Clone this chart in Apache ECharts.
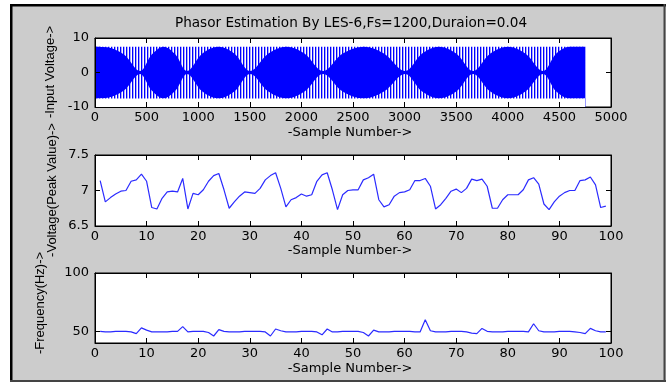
<!DOCTYPE html>
<html>
<head>
<meta charset="utf-8">
<title>Phasor Estimation By LES-6</title>
<script src="https://cdn.jsdelivr.net/npm/echarts@6/dist/echarts.min.js"></script>
<style>
  html, body { margin: 0; padding: 0; background: #fff; }
  #chart { width: 667px; height: 383px; }
</style>
</head>
<body>
<div id="chart"></div>
<script>
// input waveform is too dense to read sample by sample: read its envelope instead
// (sample number, half height of the solid core, peak amplitude)
const inputSamples = [0, 120, 280, 436, 550, 663, 780, 891, 1040, 1196, 1350, 1502, 1680, 1855, 2030, 2209,
    2400, 2606, 2800, 3004, 3170, 3333, 3500, 3663, 3830, 4002, 4170, 4341, 4470, 4600, 4750];
const inputCore = [7.5, 7.3, 5.2, 0.4, 5.2, 7.5, 5.2, 0.4, 5.5, 7.5, 5.5, 0.4, 5.5, 7.5, 5.5, 0.4,
    5.5, 7.5, 5.5, 0.4, 5.5, 7.5, 5.5, 0.4, 5.5, 7.5, 5.5, 0.4, 5.5, 7.5, 7.5];
const inputPeak = 7.5;

// estimated peak voltage, samples 1..99
const voltage = [7.14, 6.84, 6.90, 6.95, 6.99, 7.00, 7.13, 7.15, 7.23, 7.13,
    6.76, 6.74, 6.89, 6.98, 6.99, 6.98, 7.17, 6.74, 6.96, 6.94,
    7.01, 7.13, 7.21, 7.24, 7.01, 6.75, 6.84, 6.92, 6.98, 6.97,
    6.96, 7.03, 7.15, 7.21, 7.25, 7.03, 6.77, 6.87, 6.90, 6.95,
    6.92, 6.94, 7.13, 7.22, 7.25, 7.01, 6.73, 6.94, 7.00, 7.01,
    7.01, 7.15, 7.18, 7.23, 6.87, 6.77, 6.80, 6.92, 6.97, 6.98,
    7.01, 7.14, 7.14, 7.17, 7.06, 6.74, 6.80, 6.89, 6.99, 7.02,
    6.97, 7.03, 7.16, 7.14, 7.16, 7.06, 6.75, 6.75, 6.87, 6.94,
    6.94, 6.94, 7.01, 7.15, 7.18, 7.09, 6.81, 6.73, 6.84, 6.92,
    6.97, 7.00, 7.00, 7.14, 7.15, 7.19, 7.08, 6.76, 6.78];

// estimated frequency (Hz), samples 1..99
const frequency = [50, 49.5, 49.5, 50, 50, 50, 49.5, 48, 53, 51,
    49.5, 49.5, 49.5, 49.5, 50, 50, 54, 49.5, 50, 50,
    50, 49, 46, 51.5, 50, 49.5, 49.5, 49.5, 50, 50,
    50, 50, 49.5, 46, 52, 50.5, 49.5, 49.5, 49.5, 50,
    50, 50, 49.5, 47, 52, 49.5, 49.5, 50, 50, 50,
    50, 49, 46, 51, 49.5, 49.5, 49.5, 50, 50, 50,
    50, 49.5, 49.5, 60, 50.5, 49.5, 49.5, 49.5, 50, 50,
    50, 49.5, 48.5, 48, 52.5, 50, 49.5, 49.5, 49.5, 50,
    50, 50, 50, 49.5, 56.5, 50.5, 49.5, 49.5, 49.5, 50,
    50, 50, 49.5, 49, 48, 52.5, 50.5, 49.5, 49.5];

const freqTicks = [50, 100];

const FONT = '"DejaVu Sans", Verdana, sans-serif';
const FONT_V = '"Liberation Sans", Arial, sans-serif';
const chart = echarts.init(document.getElementById('chart'));

// vertical stripes seen between the solid lobes
function stripes() {
    const c = document.createElement('canvas');
    c.width = 3;
    c.height = 4;
    const ctx = c.getContext('2d');
    ctx.fillStyle = '#ffffff';
    ctx.fillRect(0, 0, 3, 4);
    ctx.fillStyle = '#0000ff';
    ctx.fillRect(0, 0, 1, 4);
    ctx.fillStyle = '#a8a8ff';
    ctx.fillRect(1, 0, 1, 4);
    return c;
}
const stripeFill = { image: stripes(), repeat: 'repeat' };

const grids = [
    { left: 95, top: 38, width: 516, height: 69 },
    { left: 95, top: 155, width: 516, height: 71 },
    { left: 95, top: 273, width: 516, height: 70 }
].map(g => Object.assign(g, { show: true, backgroundColor: '#fff', borderColor: '#000', borderWidth: 1 }));

const labelStyle = { color: '#000', fontFamily: FONT, fontSize: 13, formatter: v => String(v) };
const lineBlack = { show: true, onZero: false, lineStyle: { color: '#000', width: 1 } };
const tickIn = { show: true, inside: true, length: 5, lineStyle: { color: '#000' } };

function xPair(gi, max, interval) {
    return [
        { type: 'value', gridIndex: gi, position: 'bottom', min: 0, max: max, interval: interval, z: 10,
          axisLine: lineBlack, axisTick: tickIn, splitLine: { show: false },
          axisLabel: Object.assign({ margin: 4 }, labelStyle) },
        { type: 'value', gridIndex: gi, position: 'top', min: 0, max: max, interval: interval, z: 10,
          axisLine: lineBlack, axisTick: tickIn, splitLine: { show: false }, axisLabel: { show: false } }
    ];
}

function yPair(gi, min, max, interval, custom) {
    const tick = Object.assign({}, tickIn, custom ? { customValues: custom } : {});
    const label = Object.assign({ margin: 6 }, labelStyle, custom ? { customValues: custom } : {});
    return [
        { type: 'value', gridIndex: gi, position: 'left', min: min, max: max, interval: interval, z: 10,
          axisLine: lineBlack, axisTick: tick, splitLine: { show: false }, axisLabel: label },
        { type: 'value', gridIndex: gi, position: 'right', min: min, max: max, interval: interval, z: 10,
          axisLine: lineBlack, axisTick: tick, splitLine: { show: false }, axisLabel: { show: false } }
    ];
}

const xAxes = [].concat(xPair(0, 5000, 500), xPair(1, 100, 10), xPair(2, 100, 10));
const yAxes = [].concat(yPair(0, -10, 10, 10), yPair(1, 6.5, 7.5, 0.5), yPair(2, 40, 100, 10, freqTicks));

// layers painted bottom-up, each filled down to the axis start
function envLayer(values, fill, smooth) {
    return {
        type: 'line', xAxisIndex: 0, yAxisIndex: 0,
        data: inputSamples.map((s, i) => [s, values[i]]),
        symbol: 'none', smooth: smooth ? 0.35 : false, silent: true,
        lineStyle: { width: 0 },
        areaStyle: { color: fill, opacity: 1, origin: 'start' }
    };
}

function text(str, x, y, rot, font) {
    return {
        type: 'text', x: x, y: y, rotation: rot || 0, z: 100,
        style: { text: str, fill: '#000', font: font || ('13px ' + FONT), textAlign: 'center', textVerticalAlign: 'middle' }
    };
}

const option = {
    animation: false,
    backgroundColor: '#fff',
    grid: grids,
    xAxis: xAxes,
    yAxis: yAxes,
    graphic: [
        { type: 'rect', z: -100, shape: { x: 10, y: 4, width: 656, height: 378 }, style: { fill: '#cccccc' } },
        { type: 'rect', z: -99, shape: { x: 10, y: 4, width: 656, height: 2.5 }, style: { fill: '#000' } },
        { type: 'rect', z: -99, shape: { x: 10, y: 4, width: 2.5, height: 378 }, style: { fill: '#000' } },
        { type: 'rect', z: -99, shape: { x: 663.5, y: 4, width: 2, height: 378 }, style: { fill: '#444' } },
        { type: 'rect', z: -99, shape: { x: 10, y: 380, width: 656, height: 2 }, style: { fill: '#444' } },
        text('Phasor Estimation By LES-6,Fs=1200,Duraion=0.04', 351, 23, 0, '13.6px ' + FONT),
        text('-Sample Number->', 350, 133),
        text('-Sample Number->', 350, 251),
        text('-Sample Number->', 350, 369),
        text('-Input Voltage->', 50, 72, Math.PI / 2, '13px ' + FONT_V),
        text('-Voltage(Peak Value)->', 52, 190, Math.PI / 2, '13px ' + FONT_V),
        text('-Frequency(Hz)->', 40, 303, Math.PI / 2, '13px ' + FONT_V)
    ],
    series: [
        envLayer(inputSamples.map(() => inputPeak), stripeFill, false),
        envLayer(inputCore, '#0000ff', true),
        envLayer(inputCore.map(c => -c), stripeFill, true),
        envLayer(inputSamples.map(() => -inputPeak), '#ffffff', false),
        {
            type: 'line', xAxisIndex: 2, yAxisIndex: 2, symbol: 'none',
            data: voltage.map((v, i) => [i + 1, v]),
            lineStyle: { color: '#2b2bff', width: 1.2 }
        },
        {
            type: 'line', xAxisIndex: 4, yAxisIndex: 4, symbol: 'none',
            data: frequency.map((v, i) => [i + 1, v]),
            lineStyle: { color: '#2b2bff', width: 1.2 }
        }
    ]
};

chart.setOption(option);
</script>
</body>
</html>
